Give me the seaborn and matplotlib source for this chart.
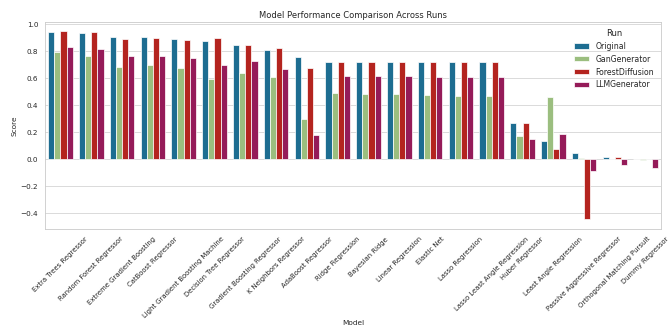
import numpy as np
import pandas as pd
import matplotlib.pyplot as plt
import seaborn as sns

models = [
    "Extra Trees Regressor", "Random Forest Regressor", "Extreme Gradient Boosting",
    "CatBoost Regressor", "Light Gradient Boosting Machine", "Decision Tree Regressor",
    "Gradient Boosting Regressor", "K Neighbors Regressor", "AdaBoost Regressor",
    "Ridge Regression", "Bayesian Ridge", "Linear Regression", "Elastic Net",
    "Lasso Regression", "Lasso Least Angle Regression", "Huber Regressor",
    "Least Angle Regression", "Passive Aggressive Regressor",
    "Orthogonal Matching Pursuit", "Dummy Regressor",
]
runs = ["Original", "GanGenerator", "ForestDiffusion", "LLMGenerator"]

original = [0.940, 0.936, 0.906, 0.906, 0.889, 0.874, 0.851, 0.809, 0.760, 0.723,
            0.723, 0.723, 0.723, 0.723, 0.723, 0.270, 0.139, 0.045, 0.016, 0.0]
gan = [0.797, 0.767, 0.683, 0.698, 0.678, 0.599, 0.641, 0.609, 0.300, 0.490,
       0.485, 0.485, 0.475, 0.470, 0.470, 0.173, 0.465, 0.010, 0.003, -0.004]
forest = [0.950, 0.945, 0.893, 0.896, 0.881, 0.901, 0.847, 0.824, 0.676, 0.723,
          0.723, 0.723, 0.723, 0.723, 0.723, 0.270, 0.074, -0.445, 0.016, 0.0]
llm = [0.834, 0.819, 0.765, 0.765, 0.752, 0.698, 0.728, 0.671, 0.183, 0.621,
       0.621, 0.621, 0.614, 0.614, 0.614, 0.149, 0.190, -0.087, -0.043, -0.065]

df = pd.DataFrame({"Model": models, "Original": original, "GanGenerator": gan,
                   "ForestDiffusion": forest, "LLMGenerator": llm})
df = df.melt(id_vars="Model", var_name="Run", value_name="Score")

palette = ["#1d6d91", "#9bbe7f", "#b4241f", "#951b59"]

sns.set_theme(style="whitegrid")
fig, ax = plt.subplots(figsize=(13.27, 6.6), dpi=50.5)
sns.barplot(data=df, x="Model", y="Score", hue="Run", hue_order=runs,
            palette=palette, saturation=1, ax=ax)
ax.set_title("Model Performance Comparison Across Runs")
ax.set_xlabel("Model", fontsize=10.5, labelpad=1)
ax.set_ylabel("Score", fontsize=10.5)
ax.legend(title="Run", loc="upper right", frameon=False)
plt.xticks(rotation=45, fontsize=9.8)
plt.yticks(fontsize=10.3)
fig.subplots_adjust(left=45 / 670, right=661 / 670, top=1 - 22 / 333, bottom=1 - 229 / 333)
plt.savefig("out.png")
